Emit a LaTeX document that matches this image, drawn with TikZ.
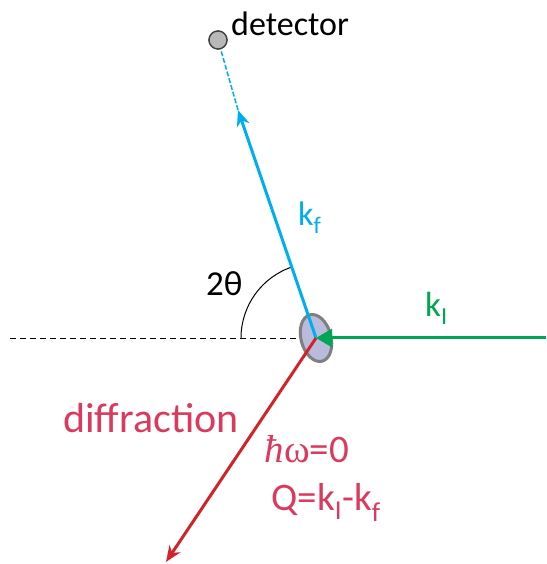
\documentclass[tikz,border=0pt]{standalone}
\usepackage{fontspec}
\setmainfont{Carlito}
\newfontfamily\symserif{Liberation Serif}
\usetikzlibrary{arrows.meta}
\definecolor{kblue}{HTML}{00AEEF}
\definecolor{kgreen}{HTML}{00A651}
\definecolor{kred}{HTML}{D2232A}
\definecolor{ktext}{HTML}{D93A5E}
\definecolor{sample}{HTML}{B9BBDD}
\definecolor{rim}{HTML}{7F7F7F}
\begin{document}
\begin{tikzpicture}[x=1pt,y=1pt,
  lbl/.style={inner sep=0pt,font=\fontsize{36}{40}\selectfont},
  vec/.style={line width=3pt,-{Stealth[length=16pt,width=13pt,inset=5pt]}},
  detstyle/.style={circle,draw=black!75,fill=black!28,line width=1.3pt,minimum size=18pt,inner sep=0pt}]
\useasboundingbox (0,0) rectangle (546,564);
\coordinate (C) at (316,226);
\coordinate (G) at (546,226);
\coordinate (D) at (10,226);
\coordinate (B) at (238,454);
\coordinate (R) at (166,2);
\node[detstyle] (det) at (218,524) {};
% dashed baseline
\draw[line width=0.8pt,dash pattern=on 6pt off 4pt] (D) -- (C);
% angle arc
\draw[line width=1pt] ([shift={(180:75)}]C) arc[start angle=180,end angle=108.5,radius=75];
% sample
\draw[fill=sample,draw=rim,line width=3pt,rotate around={15:(C)}] (C) ellipse[x radius=15pt,y radius=24pt];
% vectors
\draw[vec,color=kgreen,-{Triangle[length=16pt,width=18pt]}] (G) -- (C);
\draw[vec,color=kblue] (C) -- (B);
\draw[color=kblue,line width=1.5pt,dash pattern=on 5pt off 2pt] (B) -- (det.center);
\node[detstyle] at (det) {};
\draw[vec,color=kred] (C) -- (R);
% labels
\node[lbl,anchor=base west,font=\fontsize{34}{38}\selectfont] (dettxt) at (231,528) {detector};
\node[lbl,anchor=base west,text=kblue,font=\fontsize{34}{38}\selectfont] (kf) at (298,338) {k\textsubscript{f}};
\node[lbl,anchor=base west,font=\fontsize{35}{40}\selectfont] (th) at (206,268) {2θ};
\node[lbl,anchor=base west,text=kgreen,font=\fontsize{35}{40}\selectfont] (ki) at (425,247) {k\textsubscript{I}};
\node[lbl,anchor=base,text=ktext,font=\fontsize{42}{46}\selectfont] (diff) at (151,131) {diffraction};
\node[lbl,anchor=base,text=ktext,font=\fontsize{39}{44}\selectfont] (hw) at (307,101) {{\symserif\itshape ħ}{\symserif ω}=0};
\node[lbl,anchor=base,text=ktext,font=\fontsize{39}{44}\selectfont] (Q) at (326,53) {Q=k\textsubscript{I}-k\textsubscript{f}};
\end{tikzpicture}
\end{document}
